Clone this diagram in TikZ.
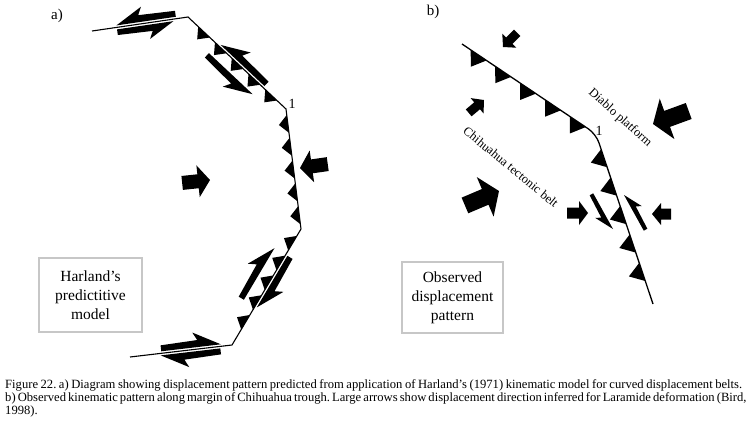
\documentclass[tikz,border=0pt]{standalone}
\usepackage{fontspec}
\setmainfont{Liberation Serif}
\frenchspacing
\newcommand\tth[3]{\fill (#1,0) -- ({#1+#2},0) -- ({#1+#2/2},#3) -- cycle;}
\newcommand\hashape{\fill (0,0) -- (27,15) -- (23,7) -- (60,6) -- (60,0) -- cycle;}
\newcommand\harr[5]{\begin{scope}[shift={(#1,{#3*#4})},xscale=#2,yscale=#3,scale=#5]\hashape\end{scope}}
\newcommand\harrabs[5]{\begin{scope}[shift={(#1,#2)},rotate=#3,yscale=#4,scale=#5]\hashape\end{scope}}
\newcommand\barr[7]{\begin{scope}[shift={(#1,#2)},rotate=#3]\fill (0,0) -- (-#5,{#6/2}) -- (-#5,{#7/2}) -- (-#4,{#7/2}) -- (-#4,{-#7/2}) -- (-#5,{-#7/2}) -- (-#5,{-#6/2}) -- cycle;\end{scope}}
\begin{document}
\begin{tikzpicture}[x=1pt,y=-1pt,
  fault/.style={line width=1.1pt,black},
  lbl/.style={font=\fontsize{15}{17}\selectfont},
  numlbl/.style={font=\fontsize{14}{16}\selectfont},
  rotlbl/.style={font=\fontsize{12.5}{14}\selectfont},
  boxnode/.style={draw=black!22,line width=1.5pt,align=center,inner sep=0pt,
    font=\fontsize{15.5}{19}\selectfont},
  captext/.style={font=\fontsize{12.6}{13}\selectfont,inner sep=0pt,anchor=base west}]
\useasboundingbox (0,0) rectangle (747,424);
\fill[white] (0,0) rectangle (747,424);
% ---------- panel a ----------
\coordinate (a0) at (92,31);
\coordinate (a1) at (188,17);
\coordinate (a2) at (286,109);
\coordinate (a3) at (301,229);
\coordinate (a4) at (232,345);
\coordinate (a5) at (130,357);
\draw[fault] (a0) -- (a1) -- (a2) -- (a3) -- (a4) -- (a5);
\begin{scope}[shift={(a0)},rotate=8.3]
  \harr{25}{1}{-1}{2}{1}
  \harr{82}{-1}{1}{2}{0.95}
\end{scope}
\begin{scope}[shift={(a1)},rotate=-43.2]
  \tth{14}{16}{10}\tth{37}{16}{10}\tth{60}{16}{10}\tth{83}{16}{10}\tth{106}{16}{10}
  \harr{43}{1}{-1}{2}{1}
  \harr{100}{-1}{1}{12}{1}
\end{scope}
\begin{scope}[shift={(a2)},rotate=-82.9]
  \tth{6}{18}{9}\tth{29}{18}{9}\tth{52}{18}{9}\tth{75}{18}{9}\tth{98}{18}{9}
\end{scope}
\begin{scope}[shift={(a3)},rotate=-120.7]
  \tth{8}{17}{10}\tth{31}{17}{10}\tth{54}{17}{10}\tth{77}{17}{10}\tth{100}{17}{10}
  \harr{30}{1}{1}{13}{1}
  \harr{90}{-1}{-1}{2}{1}
\end{scope}
\begin{scope}[shift={(a4)},rotate=-173.3]
  \harr{11}{1}{1}{2}{1}
  \harr{72}{-1}{-1}{2}{1}
\end{scope}
\barr{210}{180}{6}{28}{12}{32}{14}
\barr{300}{168}{-172}{28}{12}{32}{14}
\node[lbl] (la) at (57,16) {a)};
\node[numlbl] (n1a) at (292,104) {1};
\node[boxnode,minimum width=103pt,minimum height=74pt] (boxa) at (90.5,295) {Harland’s\\predictitive\\model};
% ---------- panel b ----------
\coordinate (b0) at (462,44);
\coordinate (b1) at (596,134);
\coordinate (b2) at (653,304);
\draw[fault,line width=1.3pt,rounded corners=9pt] (b0) -- (b1) -- (b2);
\begin{scope}[shift={(b0)},rotate=-33.9]
  \tth{10.5}{19}{14}\tth{40}{19}{14}\tth{70}{19}{14}\tth{100}{19}{14}\tth{130}{19}{14}
\end{scope}
\begin{scope}[shift={(b1)},rotate=-71.5]
  \tth{16}{19}{14}\tth{46}{19}{14}\tth{76}{19}{14}\tth{106}{19}{14}\tth{136}{19}{14}
\end{scope}
\harrabs{613}{229}{119}{-1}{0.68}
\harrabs{624}{195}{-61}{-1}{0.68}
\barr{503}{47}{-135}{20}{9}{20}{9}
\barr{484}{100}{40}{20}{9}{20}{9}
\barr{499}{191}{23}{37}{15}{43}{17}
\barr{653}{124}{-160}{38}{15}{43}{17}
\barr{588}{213}{0}{21}{9}{24}{11}
\barr{652}{214}{-180}{19}{9}{22}{11}
\node[lbl] (lb) at (433,12) {b)};
\node[numlbl] (n1b) at (599,131) {1};
\node[rotlbl,rotate=-42] (diablo) at (620,118) {Diablo platform};
\node[rotlbl,rotate=-39.5] (chih) at (511,167) {Chihuahua tectonic belt};
\node[boxnode,minimum width=101pt,minimum height=71pt] (boxb) at (452.5,297.5) {Observed\\displacement\\pattern};
% ---------- caption ----------
\node[captext] (c1) at (5,388) {\makebox[737pt][s]{Figure 22. a) Diagram showing displacement pattern predicted from application of Harland’s (1971) kinematic model for curved displacement belts.}};
\node[captext] (c2) at (5,401) {\makebox[737pt][s]{b) Observed kinematic pattern along margin of Chihuahua trough. Large arrows show displacement direction inferred for Laramide deformation (Bird,}};
\node[captext] (c3) at (5,414) {1998).};
\end{tikzpicture}
\end{document}
